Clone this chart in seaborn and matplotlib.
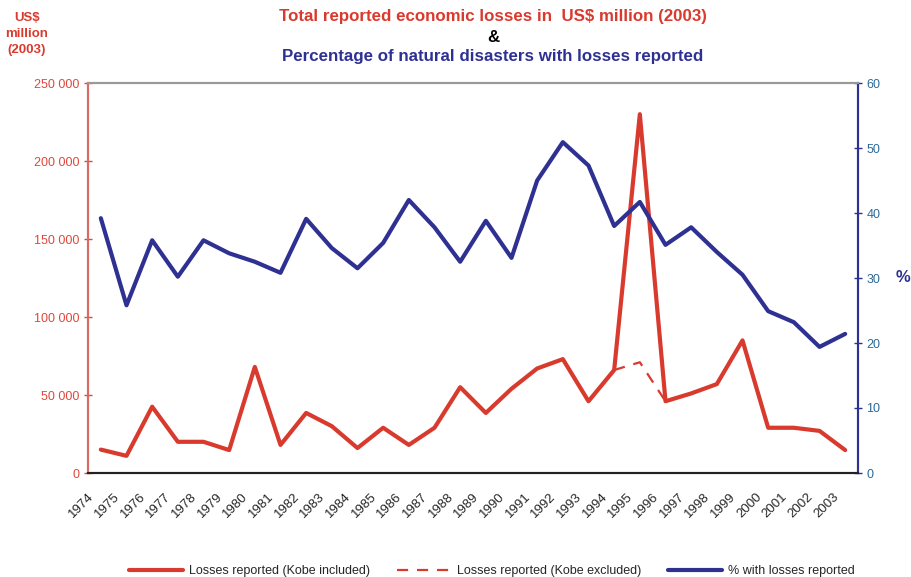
import matplotlib

matplotlib.use("Agg")
import matplotlib.pyplot as plt
import numpy as np
import pandas as pd
import seaborn as sns

years = list(range(1974, 2004))

# Total reported economic losses, US$ million (2003), Kobe included
losses_kobe_included = [
    15000, 11000, 42500, 20000, 20000, 14700, 68000, 18000, 38500, 30000,
    16000, 29000, 18000, 29000, 55000, 38500, 54000, 67000, 73000, 46000,
    66000, 230000, 46000, 51000, 57000, 85000, 29000, 29000, 27000, 14700,
]

# Kobe excluded only differs around 1995
kobe_excluded_years = [1994, 1995, 1996]
losses_kobe_excluded = [66000, 71000, 46000]

# Percentage of natural disasters with losses reported
pct_with_losses = [
    39.2, 25.8, 35.8, 30.2, 35.8, 33.8, 32.5, 30.8, 39.1, 34.6,
    31.5, 35.4, 42.0, 37.8, 32.5, 38.8, 33.1, 45.0, 50.9, 47.3,
    38.0, 41.7, 35.1, 37.8, 34.0, 30.5, 24.9, 23.2, 19.4, 21.4,
]

RED = "#d93a2e"
RED_TXT = "#e0473c"
BLUE = "#2e3192"
BLUE_TXT = "#2a6a98"


def build_frames():
    df = pd.DataFrame({
        "pos": np.arange(len(years)),
        "year": years,
        "losses": losses_kobe_included,
        "pct": pct_with_losses,
    })
    ex = pd.DataFrame({
        "pos": [years.index(y) for y in kobe_excluded_years],
        "losses": losses_kobe_excluded,
    })
    return df, ex


def main():
    sns.set_style("white")
    plt.rcParams["font.family"] = ["Liberation Sans", "DejaVu Sans"]

    df, ex = build_frames()

    fig = plt.figure(figsize=(9.12, 5.77), dpi=100)
    ax = fig.add_axes([88 / 912, 1 - 473 / 577, 770 / 912, 390 / 577])
    ax2 = ax.twinx()

    sns.lineplot(data=df, x="pos", y="losses", ax=ax, color=RED, lw=3,
                 label="Losses reported (Kobe included)", legend=False)
    sns.lineplot(data=ex, x="pos", y="losses", ax=ax, color=RED, lw=1.6,
                 linestyle=(0, (5, 4)), label="Losses reported (Kobe excluded)",
                 legend=False)
    sns.lineplot(data=df, x="pos", y="pct", ax=ax2, color=BLUE, lw=3,
                 label="% with losses reported", legend=False)

    n = len(years)
    ax.set_xlim(-0.5, n - 0.5)
    ax.set_ylim(0, 250000)
    ax2.set_ylim(0, 60)

    ax.set_xticks(np.arange(n + 1) - 0.5)
    ax.set_xticklabels([str(y) for y in years] + [""], rotation=45,
                       ha="right", rotation_mode="anchor", fontsize=9.5)
    ax.set_yticks(np.arange(0, 250001, 50000))
    ax.set_yticklabels([f"{v:,}".replace(",", " ") for v in range(0, 250001, 50000)],
                       color=RED_TXT, fontsize=9)
    ax2.set_yticks(np.arange(0, 61, 10))
    ax2.set_yticklabels([str(v) for v in range(0, 61, 10)], color=BLUE_TXT, fontsize=9)

    ax.set_xlabel("")
    ax.set_ylabel("")
    ax2.set_ylabel("")

    ax.tick_params(axis="x", direction="inout", length=7, width=1, color="#222222", pad=9)
    ax.tick_params(axis="y", direction="inout", length=6, width=1, color=RED_TXT, pad=3)
    ax2.tick_params(axis="y", direction="inout", length=6, width=1, color=BLUE, pad=3)

    for a in (ax, ax2):
        a.spines["top"].set_color("#999999")
        a.spines["bottom"].set_color("#222222")
        a.spines["left"].set_color("#d96b63")
        a.spines["right"].set_color(BLUE)
        for s in a.spines.values():
            s.set_linewidth(1.5)
    ax.grid(False)
    ax2.grid(False)

    fig.text(493 / 912, 1 - 17 / 577, "Total reported economic losses in  US$ million (2003)",
             color=RED, fontsize=12.2, fontweight="bold", ha="center", va="center")
    fig.text(493 / 912, 1 - 38 / 577, "&", color="black", fontsize=12.2,
             fontweight="bold", ha="center", va="center")
    fig.text(493 / 912, 1 - 56 / 577, "Percentage of natural disasters with losses reported",
             color=BLUE, fontsize=12.2, fontweight="bold", ha="center", va="center")
    fig.text(27 / 912, 1 - 34 / 577, "US$\nmillion\n(2003)", color=RED, fontsize=9.5,
             fontweight="bold", ha="center", va="center", linespacing=1.45)
    fig.text(903 / 912, 1 - 278 / 577, "%", color=BLUE, fontsize=12,
             fontweight="bold", ha="center", va="center")

    handles = ax.get_lines()[:2] + ax2.get_lines()[:1]
    labels = ["Losses reported (Kobe included)", "Losses reported (Kobe excluded)",
              "% with losses reported"]
    fig.legend(handles, labels, loc="center", bbox_to_anchor=(492 / 912, 1 - 571 / 577),
               ncol=3, frameon=False, fontsize=9, handlelength=4.3, columnspacing=2.1,
               handletextpad=0.55, borderaxespad=0, borderpad=0)

    fig.savefig("out.png", dpi=100)
    plt.close(fig)


if __name__ == "__main__":
    main()
